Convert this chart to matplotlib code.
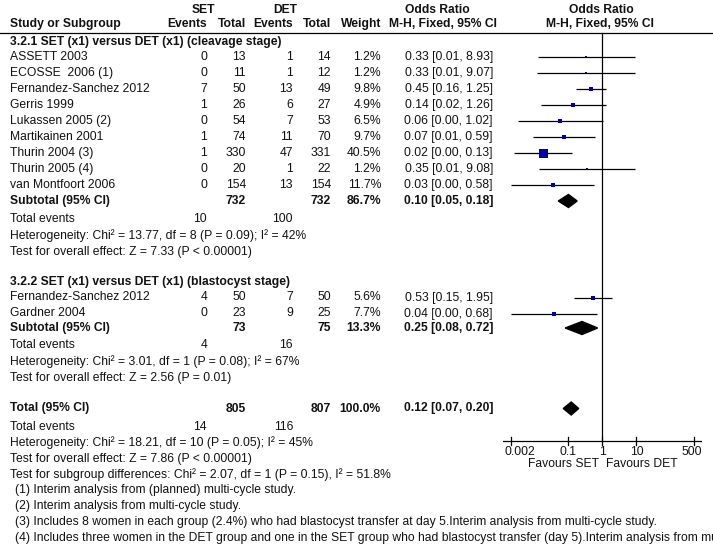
import numpy as np
import matplotlib.pyplot as plt
from matplotlib.patches import Polygon

plt.rcParams['font.family'] = ['Liberation Sans', 'DejaVu Sans']
FS = 8.7

# 3.2.1 SET (x1) versus DET (x1) (cleavage stage)
studies1 = ['ASSETT 2003', 'ECOSSE  2006 (1)', 'Fernandez-Sanchez 2012', 'Gerris 1999',
            'Lukassen 2005 (2)', 'Martikainen 2001', 'Thurin 2004 (3)', 'Thurin 2005 (4)',
            'van Montfoort 2006']
set_ev1 = [0, 0, 7, 1, 0, 1, 1, 0, 0]
set_tot1 = [13, 11, 50, 26, 54, 74, 330, 20, 154]
det_ev1 = [1, 1, 13, 6, 7, 11, 47, 1, 13]
det_tot1 = [14, 12, 49, 27, 53, 70, 331, 22, 154]
weight1 = [1.2, 1.2, 9.8, 4.9, 6.5, 9.7, 40.5, 1.2, 11.7]
or1 = [0.333, 0.333, 0.451, 0.14, 0.057, 0.073, 0.018, 0.35, 0.034]
lo1 = [0.0124, 0.0122, 0.162, 0.0156, 0.0032, 0.0092, 0.0025, 0.0135, 0.0020]
hi1 = [8.93, 9.07, 1.25, 1.26, 1.02, 0.59, 0.13, 9.08, 0.58]

# 3.2.2 SET (x1) versus DET (x1) (blastocyst stage)
studies2 = ['Fernandez-Sanchez 2012', 'Gardner 2004']
set_ev2 = [4, 0]
set_tot2 = [50, 23]
det_ev2 = [7, 9]
det_tot2 = [50, 25]
weight2 = [5.6, 7.7]
or2 = [0.534, 0.037]
lo2 = [0.146, 0.0020]
hi2 = [1.95, 0.68]

# subtotals / total
sub_names = ['Subtotal (95% CI)', 'Subtotal (95% CI)', 'Total (95% CI)']
sub_set_tot = [732, 73, 805]
sub_det_tot = [732, 75, 807]
sub_weight = [86.7, 13.3, 100.0]
sub_or = [0.10, 0.25, 0.12]
sub_lo = [0.05, 0.08, 0.07]
sub_hi = [0.18, 0.72, 0.20]
tot_set_ev = [10, 4, 14]
tot_det_ev = [100, 16, 116]
hetero = ['Heterogeneity: Chi\u00b2 = 13.77, df = 8 (P = 0.09); I\u00b2 = 42%',
          'Heterogeneity: Chi\u00b2 = 3.01, df = 1 (P = 0.08); I\u00b2 = 67%',
          'Heterogeneity: Chi\u00b2 = 18.21, df = 10 (P = 0.05); I\u00b2 = 45%']
overall = ['Test for overall effect: Z = 7.33 (P < 0.00001)',
           'Test for overall effect: Z = 2.56 (P = 0.01)',
           'Test for overall effect: Z = 7.86 (P < 0.00001)']
subgroup_test = 'Test for subgroup differences: Chi\u00b2 = 2.07, df = 1 (P = 0.15), I\u00b2 = 51.8%'
footnotes = ['(1) Interim analysis from (planned) multi-cycle study.',
             '(2) Interim analysis from multi-cycle study.',
             '(3) Includes 8 women in each group (2.4%) who had blastocyst transfer at day 5.Interim analysis from multi-cycle study.',
             '(4) Includes three women in the DET group and one in the SET group who had blastocyst transfer (day 5).Interim analysis from multi-cycle study.']

ticks = [0.002, 0.1, 1, 10, 500]
tick_labels = ['0.002', '0.1', '1', '10', '500']

# column right edges (pixels)
X_NAME, X_SE, X_ST, X_DE, X_DT, X_W, X_CI = 10, 207, 246, 293, 331, 381, 493

fig = plt.figure(figsize=(7.13, 5.6), dpi=100)
ax = fig.add_axes([0, 0, 1, 1])
ax.set_xlim(0, 713)
ax.set_ylim(560, 0)
ax.axis('off')

# forest axes, log scale, 34 px per decade, 1 at x=602.5
px0, px1, c, dec = 503, 702, 602.5, 34.0
axf = fig.add_axes([px0 / 713, 0, (px1 - px0) / 713, 1])
axf.set_xscale('log')
axf.set_xlim(10 ** ((px0 - c) / dec), 10 ** ((px1 - c) / dec))
axf.set_ylim(560, 0)
axf.axis('off')


def t(x, y, s, ha='left', bold=False, **kw):
    ax.text(x, y, s, ha=ha, va='center', fontsize=FS,
            fontweight='bold' if bold else 'normal', color='#111111', **kw)


# header
t(203, 10, 'SET', 'center', True)
t(285, 10, 'DET', 'center', True)
t(437, 10, 'Odds Ratio', 'center', True)
t(601, 10, 'Odds Ratio', 'center', True)
t(X_NAME, 24, 'Study or Subgroup', bold=True)
t(X_SE, 24, 'Events', 'right', True)
t(X_ST, 24, 'Total', 'right', True)
t(X_DE, 24, 'Events', 'right', True)
t(X_DT, 24, 'Total', 'right', True)
t(X_W, 24, 'Weight', 'right', True)
t(443, 24, 'M-H, Fixed, 95% CI', 'center', True)
t(600, 24, 'M-H, Fixed, 95% CI', 'center', True)
ax.plot([0, 713], [32.5, 32.5], color='black', lw=0.9)


def study_rows(y0, names, se, st, de, dt, w, o, lo, hi):
    for i in range(len(names)):
        y = y0 + 16 * i
        t(X_NAME, y, names[i])
        t(X_SE, y, str(se[i]), 'right')
        t(X_ST, y, str(st[i]), 'right')
        t(X_DE, y, str(de[i]), 'right')
        t(X_DT, y, str(dt[i]), 'right')
        t(X_W, y, f'{w[i]:.1f}%', 'right')
        t(X_CI, y, f'{o[i]:.2f} [{lo[i]:.2f}, {hi[i]:.2f}]', 'right')
        axf.plot([lo[i], hi[i]], [y, y], color='black', lw=0.9, solid_capstyle='butt')
        side = max(9 * np.sqrt(w[i] / 40.5), 2.2) * 0.72
        axf.scatter([o[i]], [y], marker='s', s=side ** 2, color='#0000a0', linewidths=0, zorder=3)


def summary_row(y, k):
    bold = True
    t(X_NAME, y, sub_names[k], bold=bold)
    t(X_ST, y, str(sub_set_tot[k]), 'right', bold)
    t(X_DT, y, str(sub_det_tot[k]), 'right', bold)
    t(X_W, y, f'{sub_weight[k]:.1f}%', 'right', bold)
    t(X_CI, y, f'{sub_or[k]:.2f} [{sub_lo[k]:.2f}, {sub_hi[k]:.2f}]', 'right', bold)
    axf.add_patch(Polygon([(sub_lo[k], y), (sub_or[k], y - 6.5), (sub_hi[k], y), (sub_or[k], y + 6.5)],
                          closed=True, color='black', zorder=3))


def stats_rows(y, k):
    t(X_NAME, y, 'Total events')
    t(X_SE, y, str(tot_set_ev[k]), 'right')
    t(X_DE, y, str(tot_det_ev[k]), 'right')
    t(X_NAME, y + 16.5, hetero[k])
    t(X_NAME, y + 32.5, overall[k])


# subgroup 1
t(X_NAME, 42, '3.2.1 SET (x1) versus DET (x1) (cleavage stage)', bold=True)
study_rows(57, studies1, set_ev1, set_tot1, det_ev1, det_tot1, weight1, or1, lo1, hi1)
summary_row(201, 0)
stats_rows(219, 0)

# subgroup 2
t(X_NAME, 282.5, '3.2.2 SET (x1) versus DET (x1) (blastocyst stage)', bold=True)
study_rows(297.5, studies2, set_ev2, set_tot2, det_ev2, det_tot2, weight2, or2, lo2, hi2)
summary_row(328, 1)
stats_rows(345, 1)

# overall
summary_row(408.5, 2)
stats_rows(426.5, 2)
t(X_NAME, 474.5, subgroup_test)
for i, fn in enumerate(footnotes):
    t(15, 489.5 + 16 * i, fn, clip_on=False)

# null line and axis
axf.plot([1, 1], [32.5, 441], color='black', lw=0.9)
axf.plot(axf.get_xlim(), [441, 441], color='black', lw=0.9)
for v in ticks:
    axf.plot([v, v], [437, 445], color='black', lw=0.9)
xl = axf.get_xlim()
for v, lab in zip(ticks, tick_labels):
    if v == ticks[0]:
        axf.text(xl[0] * 1.12, 452, lab, ha='left', va='center', fontsize=FS, color='#111111')
    elif v == ticks[-1]:
        axf.text(xl[1], 452, lab, ha='right', va='center', fontsize=FS, color='#111111')
    else:
        axf.text(v, 452, lab, ha='center', va='center', fontsize=FS, color='#111111')
t(599, 464, 'Favours SET', 'right')
t(606, 464, 'Favours DET', 'left')

fig.savefig('out.png', dpi=100, facecolor='white')
